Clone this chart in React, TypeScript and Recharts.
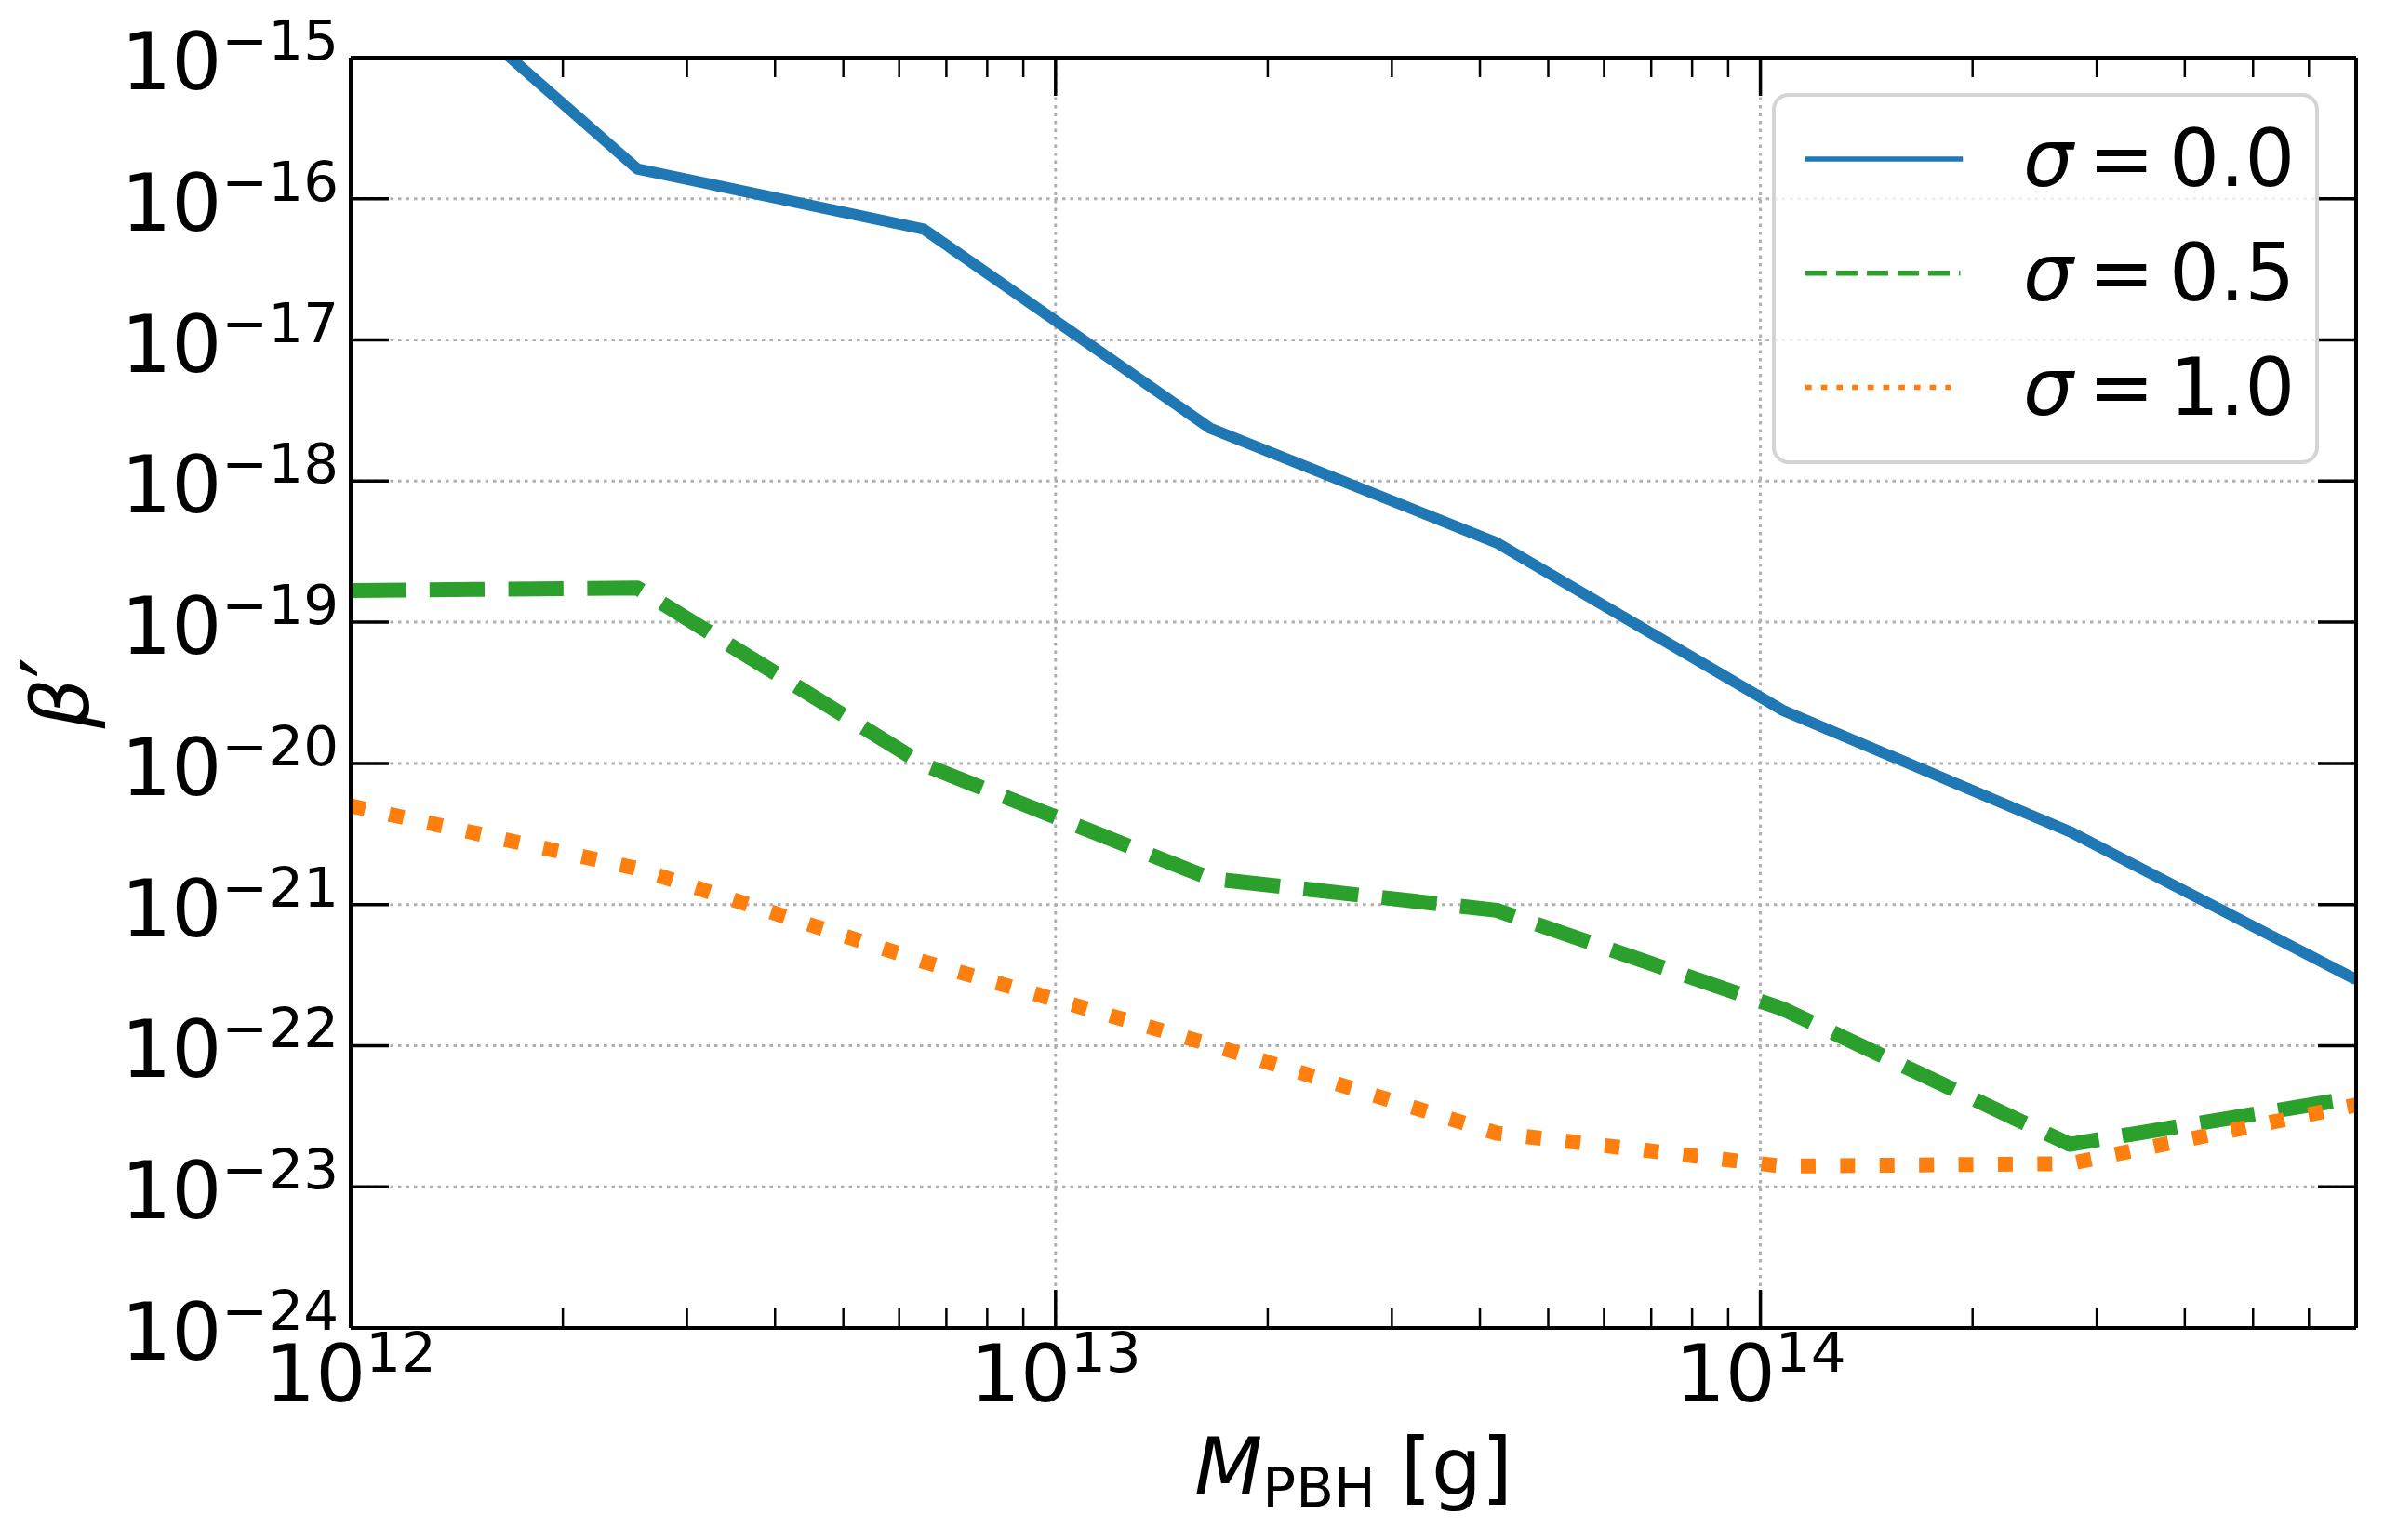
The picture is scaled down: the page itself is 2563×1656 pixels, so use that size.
import { LineChart, Line, XAxis, YAxis, CartesianGrid, Legend } from 'recharts';

// PBH mass grid [g]
const masses = [1e12, 2.55e12, 6.5e12, 1.657e13, 4.225e13, 1.077e14, 2.746e14, 7e14];

// beta' for each log-normal width
const sigma00 = [9.8e-15, 1.63e-16, 6.1e-17, 2.37e-18, 3.66e-19, 2.37e-20, 3.29e-21, 2.94e-22];
const sigma05 = [1.68e-19, 1.75e-19, 9.8e-21, 1.53e-21, 9.1e-22, 1.82e-22, 2.0e-23, 4.3e-23];
const sigma10 = [5.0e-21, 1.8e-21, 3.94e-22, 1.02e-22, 2.4e-23, 1.4e-23, 1.46e-23, 3.8e-23];

const seriesLabels = ['0.0', '0.5', '1.0'];

const xMajorTicks = [1e12, 1e13, 1e14];
const xMinorTicks = [
  2e12, 3e12, 4e12, 5e12, 6e12, 7e12, 8e12, 9e12,
  2e13, 3e13, 4e13, 5e13, 6e13, 7e13, 8e13, 9e13,
  2e14, 3e14, 4e14, 5e14, 6e14,
];
const yTicks = [1e-24, 1e-23, 1e-22, 1e-21, 1e-20, 1e-19, 1e-18, 1e-17, 1e-16, 1e-15];

const xDomain = [1e12, 7e14];
const yDomain = [1e-24, 1e-15];

const data = masses.map((m, i) => ({ m, s0: sigma00[i], s05: sigma05[i], s10: sigma10[i] }));
const xTicks = [...xMajorTicks, ...xMinorTicks].sort((a, b) => a - b);

const FONT = 'DejaVu Sans';
const FS = 85;
const SUP = 59.5;
const BLUE = '#1f77b4';
const GREEN = '#2ca02c';
const ORANGE = '#ff7f0e';

const exponent = (v: number) => {
  const e = Math.round(Math.log10(v));
  return e < 0 ? `\u2212${-e}` : `${e}`;
};

const PowerLabel = ({ x, y, anchor, v }: any) => (
  <text x={x} y={y} textAnchor={anchor} fontFamily={FONT} fontSize={FS} fill="#000">
    10
    <tspan dy={-32} fontSize={SUP}>{exponent(v)}</tspan>
  </text>
);

const isMajor = (v: number) => xMajorTicks.includes(v);

const BottomTick = ({ x, y, payload }: any) => {
  const major = isMajor(payload.value);
  return (
    <g>
      <line x1={x} x2={x} y1={y} y2={y - (major ? 41 : 21)} stroke="#000" strokeWidth={major ? 3.5 : 2.5} />
      {major && <PowerLabel x={x} y={y + 78.5} anchor="middle" v={payload.value} />}
    </g>
  );
};

const TopTick = ({ x, y, payload }: any) => {
  const major = isMajor(payload.value);
  return <line x1={x} x2={x} y1={y} y2={y + (major ? 41 : 21)} stroke="#000" strokeWidth={major ? 3.5 : 2.5} />;
};

const LeftTick = ({ x, y, payload }: any) => (
  <g>
    <line x1={x} x2={x + 41} y1={y} y2={y} stroke="#000" strokeWidth={3.5} />
    <PowerLabel x={x - 13} y={y + 34} anchor="end" v={payload.value} />
  </g>
);

const RightTick = ({ x, y }: any) => (
  <line x1={x} x2={x - 41} y1={y} y2={y} stroke="#000" strokeWidth={3.5} />
);

const XLabel = ({ viewBox }: any) => (
  <text
    x={viewBox.x + viewBox.width / 2}
    y={viewBox.y + 179}
    textAnchor="middle"
    fontFamily={FONT}
    fontSize={FS}
    fill="#000"
  >
    <tspan fontStyle="italic">M</tspan>
    <tspan dy={13} fontSize={SUP}>PBH</tspan>
    <tspan dy={-13}>{'\u00a0[g]'}</tspan>
  </text>
);

const YLabel = ({ viewBox }: any) => {
  const x = viewBox.x + 18;
  const y = viewBox.y + viewBox.height / 2;
  return (
    <text
      x={x}
      y={y}
      transform={`rotate(-90, ${x}, ${y})`}
      textAnchor="middle"
      fontFamily={FONT}
      fontStyle="italic"
      fontSize={FS}
      fill="#000"
    >
      β<tspan fontSize={100} fontStyle="normal">′</tspan>
    </text>
  );
};

const legendRows = [
  { color: BLUE, dash: undefined, cap: 'square', label: seriesLabels[0] },
  { color: GREEN, dash: '23 10', cap: 'butt', label: seriesLabels[1] },
  { color: ORANGE, dash: '6.7 10', cap: 'butt', label: seriesLabels[2] },
];

const LegendBox = () => (
  <svg width={588} height={399} style={{ display: 'block' }}>
    <rect x={2} y={2} width={584} height={395} rx={16} fill="#fff" fillOpacity={0.8} stroke="#d4d4d4" strokeWidth={4} />
    {legendRows.map((r, i) => {
      const cy = 71 + i * 122.8;
      return (
        <g key={r.label}>
          <line
            x1={r.cap === 'square' ? 38 : 36}
            x2={r.cap === 'square' ? 202.5 : 202.5}
            y1={cy}
            y2={cy}
            stroke={r.color}
            strokeWidth={5.5}
            strokeDasharray={r.dash}
            strokeLinecap={r.cap as any}
          />
          <text x={270} y={cy + 29} fontFamily={FONT} fontSize={FS} fill="#000">
            <tspan fontStyle="italic">σ</tspan>
            <tspan dx={16}>=</tspan>
            <tspan dx={16}>{r.label}</tspan>
          </text>
        </g>
      );
    })}
  </svg>
);

export default function App() {
  return (
    <div style={{ position: 'absolute', left: 0, top: 0, background: '#fff', fontFamily: FONT }}>
      <LineChart width={2563} height={1656} data={data} margin={{ top: 52, right: 20, bottom: 28, left: 77 }}>
        <CartesianGrid
          horizontalValues={yTicks}
          verticalValues={xMajorTicks}
          stroke="#b0b0b0"
          strokeWidth={3}
          strokeDasharray="3.5 5"
        />
        <XAxis
          dataKey="m"
          type="number"
          scale="log"
          domain={xDomain}
          allowDataOverflow
          ticks={xTicks}
          interval={0}
          tick={<BottomTick />}
          tickLine={false}
          tickSize={0}
          tickMargin={0}
          axisLine={{ stroke: '#000', strokeWidth: 4 }}
          height={200}
          label={<XLabel />}
        />
        <XAxis
          xAxisId="top"
          orientation="top"
          dataKey="m"
          type="number"
          scale="log"
          domain={xDomain}
          allowDataOverflow
          ticks={xTicks}
          interval={0}
          tick={<TopTick />}
          tickLine={false}
          tickSize={0}
          tickMargin={0}
          axisLine={{ stroke: '#000', strokeWidth: 4 }}
          height={10}
        />
        <YAxis
          type="number"
          scale="log"
          domain={yDomain}
          allowDataOverflow
          ticks={yTicks}
          interval={0}
          tick={<LeftTick />}
          tickLine={false}
          tickSize={0}
          tickMargin={0}
          axisLine={{ stroke: '#000', strokeWidth: 4 }}
          width={300}
          label={<YLabel />}
        />
        <YAxis
          yAxisId="right"
          orientation="right"
          type="number"
          scale="log"
          domain={yDomain}
          allowDataOverflow
          ticks={yTicks}
          interval={0}
          tick={<RightTick />}
          tickLine={false}
          tickSize={0}
          tickMargin={0}
          axisLine={{ stroke: '#000', strokeWidth: 4 }}
          width={10}
        />
        <Line
          dataKey="s0"
          type="linear"
          stroke={BLUE}
          strokeWidth={12}
          strokeLinejoin="round"
          dot={false}
          activeDot={false}
          isAnimationActive={false}
        />
        <Line
          dataKey="s05"
          type="linear"
          stroke={GREEN}
          strokeWidth={16}
          strokeDasharray="59.2 25.6"
          strokeLinejoin="round"
          dot={false}
          activeDot={false}
          isAnimationActive={false}
        />
        <Line
          dataKey="s10"
          type="linear"
          stroke={ORANGE}
          strokeWidth={16}
          strokeDasharray="16 26.4"
          strokeLinejoin="round"
          dot={false}
          activeDot={false}
          isAnimationActive={false}
        />
        <Legend
          layout="vertical"
          align="center"
          verticalAlign="middle"
          content={<LegendBox />}
          wrapperStyle={{ left: 1905, top: 100, width: 588, height: 399 }}
        />
      </LineChart>
    </div>
  );
}
